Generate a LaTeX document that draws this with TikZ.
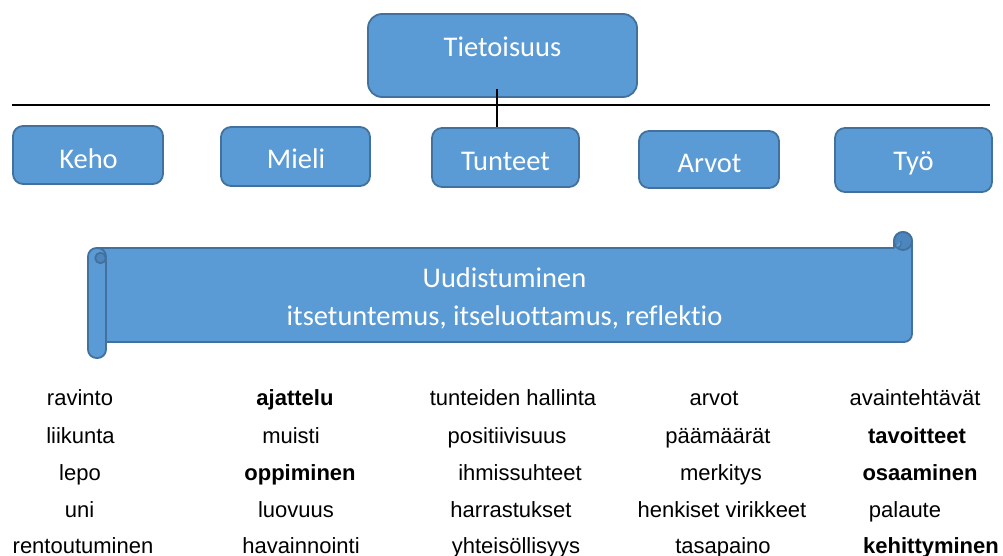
\documentclass[tikz,border=0pt]{standalone}
\usepackage{fontspec}
\setmainfont{Liberation Sans}
\newfontfamily\boxfont[Ligatures=NoCommon]{Carlito}
\definecolor{bfill}{HTML}{5B9BD5}
\definecolor{bdraw}{HTML}{41719C}
\definecolor{bdark}{HTML}{4C86BD}
\begin{document}
\begin{tikzpicture}[x=1pt,y=1pt,
  bbox/.style={draw=bdraw,fill=bfill,line width=1.8pt,rounded corners=10pt,inner sep=0pt},
  boxtext/.style={font=\boxfont\fontsize{28.5}{34}\selectfont,text=white,inner sep=0pt,anchor=base},
  item/.style={font=\fontsize{22}{26}\selectfont,inner sep=0pt,anchor=base},
  bitem/.style={item,font=\fontsize{22}{26}\selectfont\bfseries},
  scrollline/.style={draw=bdraw,line width=1.8pt,line join=round}]
\useasboundingbox (0,0) rectangle (1003,-556);

% top box and category boxes
\node[bbox,rounded corners=14pt,minimum width=269pt,minimum height=83pt] (tiet) at (502.5,-55.5) {};
\node[boxtext] (tietT) at (502.5,-57) {Tietoisuus};

\node[bbox,minimum width=150pt,minimum height=58pt] (keho) at (88,-155) {};
\node[boxtext] (kehoT) at (88.5,-168) {Keho};
\node[bbox,minimum width=149pt,minimum height=59pt] (mieli) at (295.5,-156.5) {};
\node[boxtext] (mieliT) at (296,-169) {Mieli};
\node[bbox,minimum width=147pt,minimum height=59pt] (tunteet) at (505.5,-157.5) {};
\node[boxtext] (tunteetT) at (505.5,-171) {Tunteet};
\node[bbox,minimum width=140pt,minimum height=57pt] (arvot) at (709,-159.5) {};
\node[boxtext] (arvotT) at (709.5,-173) {Arvot};
\node[bbox,minimum width=157pt,minimum height=64pt] (tyo) at (913.5,-160) {};
\node[boxtext] (tyoT) at (913.5,-171) {Työ};

% horizontal rule and connector
\coordinate (hl1) at (12,-105);
\coordinate (hl2) at (990,-105);
\draw[line width=1.3pt] (hl1) -- (hl2);
\coordinate (vc) at (497,-89);
\draw[line width=1.2pt] (vc) -- (vc |- tunteet.north);

% scroll
\filldraw[scrollline,fill=bfill] (97,-248) -- (894,-248) -- (894,-241)
  arc[start angle=180,end angle=0,radius=9] -- (912,-334)
  arc[start angle=0,end angle=-90,radius=8] -- (97,-342) -- cycle;
\filldraw[scrollline,fill=bdark] (903,-241) circle[radius=9];
\draw[draw=bdraw,line width=1.2pt,fill=bfill] (894,-248) -- (894,-244) arc[start angle=180,end angle=360,radius=3.5] -- (901,-241);
\filldraw[scrollline,fill=bfill,rounded corners=8.5pt] (88,-248) rectangle (106,-358);
\filldraw[scrollline,fill=bdark] (100.5,-258) circle[radius=5.3];

\node[boxtext] (scroll1) at (504.5,-287) {Uudistuminen};
\node[boxtext] (scroll2) at (504.5,-325) {itsetuntemus, itseluottamus, reflektio};

% column 1
\node[item] (a1) at (80,-405) {ravinto};
\node[item] (a2) at (80.5,-443) {liikunta};
\node[item] (a3) at (80,-480) {lepo};
\node[item] (a4) at (79.5,-517) {uni};
\node[item] (a5) at (83,-553) {rentoutuminen};
% column 2
\node[bitem] (b1) at (295,-405) {ajattelu};
\node[item] (b2) at (291,-443) {muisti};
\node[bitem] (b3) at (300,-480) {oppiminen};
\node[item] (b4) at (296,-517) {luovuus};
\node[item] (b5) at (301,-553) {havainnointi};
% column 3
\node[item] (c1) at (513,-405) {tunteiden hallinta};
\node[item] (c2) at (507,-443) {positiivisuus};
\node[item] (c3) at (520,-480) {ihmissuhteet};
\node[item] (c4) at (511,-517) {harrastukset};
\node[item] (c5) at (516,-553) {yhteisöllisyys};
% column 4
\node[item] (d1) at (714,-405) {arvot};
\node[item] (d2) at (718,-443) {päämäärät};
\node[item] (d3) at (721,-480) {merkitys};
\node[item] (d4) at (722,-517) {henkiset virikkeet};
\node[item] (d5) at (723,-553) {tasapaino};
% column 5
\node[item] (e1) at (915,-405) {avaintehtävät};
\node[bitem] (e2) at (917,-443) {tavoitteet};
\node[bitem] (e3) at (920,-480) {osaaminen};
\node[item] (e4) at (905,-517) {palaute};
\node[bitem] (e5) at (931,-553) {kehittyminen};
\end{tikzpicture}
\end{document}
